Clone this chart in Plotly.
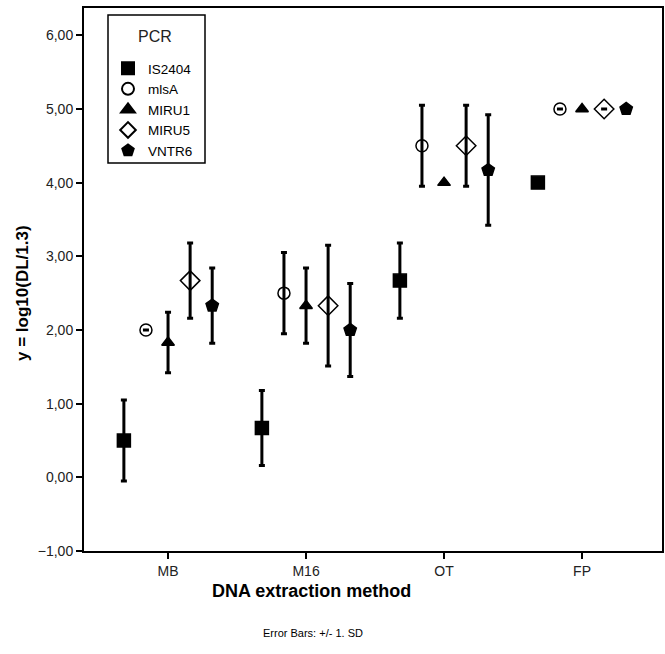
import plotly.graph_objects as go

methods = ["MB", "M16", "OT", "FP"]
pcr_targets = ["IS2404", "mlsA", "MIRU1", "MIRU5", "VNTR6"]

# mean values per PCR target, ordered as methods
is2404_mean = [0.50, 0.67, 2.67, 4.00]
mlsa_mean = [2.00, 2.50, 4.50, 5.00]
miru1_mean = [1.83, 2.33, 4.00, 5.00]
miru5_mean = [2.67, 2.33, 4.50, 5.00]
vntr6_mean = [2.33, 2.00, 4.17, 5.00]

# standard deviations
is2404_sd = [0.55, 0.51, 0.51, 0.0]
mlsa_sd = [0.0, 0.55, 0.55, 0.0]
miru1_sd = [0.41, 0.51, 0.0, 0.0]
miru5_sd = [0.51, 0.82, 0.55, 0.0]
vntr6_sd = [0.51, 0.63, 0.75, 0.0]

means = [is2404_mean, mlsa_mean, miru1_mean, miru5_mean, vntr6_mean]
sds = [is2404_sd, mlsa_sd, miru1_sd, miru5_sd, vntr6_sd]
offsets = [-0.32, -0.16, 0.0, 0.16, 0.32]
symbols = ["square", "circle-open", "triangle-up", "diamond-open", "pentagon"]
sizes = [13, 12, 11, 15, 13]

fig = go.Figure()
for name, m, s, off, sym, sz in zip(pcr_targets, means, sds, offsets, symbols, sizes):
    fig.add_trace(go.Scatter(
        x=[i + off for i in range(len(methods))],
        y=m,
        mode="markers",
        name=name,
        marker=dict(symbol=sym, size=sz, color="black",
                    line=dict(color="black", width=1.5)),
        error_y=dict(type="data", array=s, visible=True, color="black",
                     thickness=3, width=3),
    ))

L, T, W, H = 84, 8, 578, 543  # plot area inside the figure


def px(xp):
    return (xp - L) / W


def py(yp):
    return (T + H - yp) / H


fig.update_layout(
    width=665, height=654,
    margin=dict(l=L, r=665 - L - W, t=T, b=654 - T - H, autoexpand=False),
    paper_bgcolor="white", plot_bgcolor="white",
    font=dict(family="Liberation Sans, Arial", size=13, color="#222"),
    separators=",.",
    showlegend=True,
    legend=dict(
        x=px(108), y=py(53), xanchor="left", yanchor="top",
        bgcolor="rgba(0,0,0,0)", borderwidth=0,
        font=dict(size=13.5, color="black"),
        tracegroupgap=0, itemsizing="constant",
    ),
    xaxis=dict(
        range=[-0.609, -0.609 + W / 138], automargin=False,
        tickmode="array", tickvals=list(range(len(methods))), ticktext=methods,
        showline=True, linecolor="black", linewidth=2, mirror=True,
        ticks="outside", ticklen=6, tickwidth=2, tickcolor="black",
        showgrid=False, zeroline=False,
        tickfont=dict(size=14, color="#222"),
    ),
    yaxis=dict(
        range=[-1.0, 6.37], automargin=False,
        tickvals=[-1, 0, 1, 2, 3, 4, 5, 6], tickformat=".2f",
        showline=True, linecolor="black", linewidth=2, mirror=True,
        ticks="outside", ticklen=6, tickwidth=2, tickcolor="black",
        showgrid=False, zeroline=False,
        tickfont=dict(size=14, color="#222"),
    ),
    shapes=[
        dict(type="rect", xref="paper", yref="paper",
             x0=px(108), x1=px(205), y0=py(163), y1=py(15),
             line=dict(color="black", width=1.5), fillcolor="rgba(0,0,0,0)",
             layer="above"),
    ],
    annotations=[
        dict(text="PCR", xref="paper", yref="paper",
             x=px(155), y=py(37), showarrow=False,
             font=dict(size=16, color="#222"),
             xanchor="center", yanchor="middle"),
        dict(text="<b>DNA extraction method</b>", xref="paper", yref="paper",
             x=px(311), y=py(591),
             showarrow=False, font=dict(size=18, color="black"),
             xanchor="center", yanchor="middle"),
        dict(text="Error Bars: +/- 1. SD", xref="paper", yref="paper",
             x=px(313), y=py(633),
             showarrow=False, font=dict(size=11, color="black"),
             xanchor="center", yanchor="middle"),
        dict(text="<b>y = log10(DL/1.3)</b>", xref="paper", yref="paper",
             x=px(22), y=py(293), textangle=-90,
             showarrow=False, font=dict(size=17, color="black"),
             xanchor="center", yanchor="middle"),
    ],
)

fig.write_html("out.html", config={"displayModeBar": False},
               post_script="document.body.style.margin='0';document.body.style.overflow='hidden';")
